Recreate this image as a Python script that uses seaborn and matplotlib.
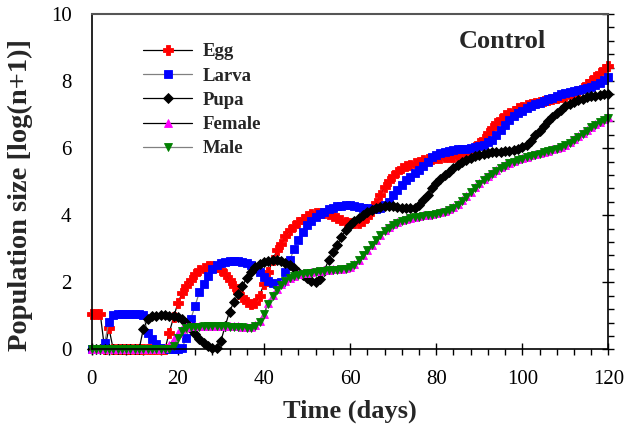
import matplotlib
matplotlib.use("Agg")
import matplotlib.pyplot as plt
import seaborn as sns
import numpy as np
import pandas as pd
from matplotlib.ticker import MultipleLocator

days = list(range(0, 121))

egg = [1.04, 1.04, 1.04, 0.0, 0.63, 0.0, 0.0, 0.0, 0.0, 0.0,
       0.0, 0.0, 0.0, 0.0, 0.0, 0.0, 0.0, 0.0, 0.5, 0.95,
       1.38, 1.68, 1.88, 2.07, 2.25, 2.37, 2.44, 2.48, 2.48, 2.45,
       2.38, 2.25, 2.08, 1.9, 1.72, 1.55, 1.42, 1.36, 1.38, 1.6,
       1.95, 2.3, 2.65, 2.95, 3.15, 3.38, 3.55, 3.68, 3.8, 3.9,
       3.98, 4.03, 4.06, 4.07, 4.06, 4.03, 3.98, 3.92, 3.86, 3.8,
       3.77, 3.76, 3.77, 3.82, 3.95, 4.12, 4.35, 4.6, 4.83, 5.02,
       5.18, 5.3, 5.4, 5.46, 5.51, 5.55, 5.6, 5.63, 5.66, 5.68,
       5.7, 5.71, 5.72, 5.73, 5.74, 5.76, 5.8, 5.85, 5.92, 6.02,
       6.15, 6.28, 6.45, 6.6, 6.75, 6.88, 6.98, 7.06, 7.12, 7.18,
       7.23, 7.27, 7.31, 7.34, 7.37, 7.4, 7.43, 7.46, 7.49, 7.53,
       7.56, 7.6, 7.64, 7.7, 7.79, 7.9, 8.0, 8.12, 8.24, 8.35,
       8.45]

larva = [0.0, 0.0, 0.0, 0.2, 0.83, 1.03, 1.04, 1.04, 1.04, 1.04,
         1.04, 1.04, 1.02, 0.5, 0.3, 0.15, 0.05, 0.0, 0.0, 0.0,
         0.0, 0.05, 0.35, 0.9, 1.3, 1.7, 1.95, 2.2, 2.4, 2.5,
         2.57, 2.6, 2.62, 2.63, 2.63, 2.6, 2.57, 2.5, 2.42, 2.3,
         2.15, 2.03, 1.97, 1.95, 2.0, 2.3, 2.65, 3.0, 3.27, 3.5,
         3.7, 3.82, 3.95, 4.03, 4.1, 4.17, 4.22, 4.26, 4.28, 4.3,
         4.3, 4.28, 4.25, 4.22, 4.2, 4.18, 4.18, 4.2, 4.3, 4.4,
         4.6, 4.75, 4.9, 5.05, 5.15, 5.25, 5.35, 5.46, 5.6, 5.72,
         5.8, 5.85, 5.88, 5.92, 5.95, 5.96, 5.97, 5.98, 6.0, 6.02,
         6.05, 6.1, 6.18, 6.25, 6.4, 6.55, 6.7, 6.85, 6.95, 7.05,
         7.12, 7.18, 7.24, 7.3, 7.35, 7.4, 7.45, 7.5, 7.55, 7.6,
         7.63, 7.66, 7.69, 7.72, 7.76, 7.79, 7.83, 7.88, 7.95, 8.03,
         8.12]

pupa = [0.0, 0.0, 0.0, 0.0, 0.0, 0.0, 0.0, 0.0, 0.0, 0.0,
        0.0, 0.0, 0.62, 0.9, 0.98, 1.0, 1.02, 1.02, 1.0, 0.99,
        0.97, 0.9, 0.78, 0.6, 0.45, 0.3, 0.18, 0.1, 0.05, 0.03,
        0.25, 0.7, 1.12, 1.41, 1.66, 1.9, 2.12, 2.32, 2.45, 2.55,
        2.6, 2.63, 2.65, 2.65, 2.62, 2.57, 2.5, 2.42, 2.32, 2.22,
        2.12, 2.05, 2.02, 2.1, 2.35, 2.65, 2.9, 3.1, 3.35, 3.55,
        3.72, 3.82, 3.92, 4.0, 4.08, 4.15, 4.2, 4.24, 4.26, 4.27,
        4.27, 4.25, 4.22, 4.2, 4.2, 4.22, 4.3, 4.45, 4.6, 4.8,
        4.95, 5.08, 5.2, 5.3, 5.4, 5.5, 5.58, 5.65, 5.71, 5.76,
        5.8, 5.83, 5.85, 5.87, 5.88, 5.89, 5.9, 5.91, 5.93, 5.96,
        6.02, 6.1, 6.22, 6.38, 6.52, 6.65, 6.8, 6.92, 7.05, 7.15,
        7.24, 7.31, 7.37, 7.42, 7.47, 7.51, 7.54, 7.56, 7.58, 7.6,
        7.62]

female = [0.0, 0.0, 0.0, 0.0, 0.0, 0.0, 0.0, 0.0, 0.0, 0.0,
          0.0, 0.0, 0.0, 0.0, 0.0, 0.0, 0.0, 0.05, 0.12, 0.3,
          0.48, 0.6, 0.66, 0.69, 0.7, 0.7, 0.71, 0.71, 0.71, 0.71,
          0.71, 0.71, 0.7, 0.7, 0.69, 0.68, 0.67, 0.67, 0.72, 0.85,
          1.06, 1.37, 1.62, 1.8, 1.94, 2.05, 2.14, 2.2, 2.24, 2.27,
          2.29, 2.31, 2.33, 2.35, 2.37, 2.38, 2.39, 2.4, 2.41, 2.43,
          2.47, 2.54, 2.67, 2.82, 2.97, 3.12, 3.27, 3.42, 3.55, 3.65,
          3.73, 3.8, 3.85, 3.89, 3.93, 3.96, 3.98, 4.0, 4.02, 4.04,
          4.06, 4.08, 4.12, 4.17, 4.23, 4.32, 4.44, 4.57, 4.7, 4.84,
          4.96, 5.07, 5.17, 5.26, 5.35, 5.43, 5.5, 5.57, 5.62, 5.66,
          5.7, 5.74, 5.78, 5.82, 5.85, 5.89, 5.92, 5.96, 6.0, 6.04,
          6.1, 6.18, 6.27, 6.35, 6.44, 6.54, 6.64, 6.72, 6.79, 6.86,
          6.92]

male = [0.0, 0.0, 0.0, 0.0, 0.0, 0.0, 0.0, 0.0, 0.0, 0.0,
        0.0, 0.0, 0.0, 0.0, 0.0, 0.0, 0.0, 0.0, 0.02, 0.1,
        0.35, 0.55, 0.63, 0.67, 0.68, 0.68, 0.69, 0.69, 0.69, 0.69,
        0.69, 0.69, 0.68, 0.68, 0.67, 0.66, 0.65, 0.65, 0.7, 0.83,
        1.04, 1.35, 1.6, 1.78, 1.92, 2.03, 2.12, 2.18, 2.22, 2.25,
        2.27, 2.29, 2.31, 2.33, 2.35, 2.36, 2.37, 2.38, 2.39, 2.41,
        2.45, 2.52, 2.65, 2.8, 2.95, 3.1, 3.25, 3.4, 3.53, 3.63,
        3.71, 3.78, 3.83, 3.87, 3.91, 3.94, 3.96, 3.98, 4.0, 4.02,
        4.04, 4.06, 4.1, 4.15, 4.21, 4.3, 4.42, 4.55, 4.68, 4.82,
        4.94, 5.05, 5.15, 5.24, 5.33, 5.41, 5.48, 5.55, 5.6, 5.64,
        5.68, 5.72, 5.76, 5.8, 5.83, 5.87, 5.9, 5.94, 5.98, 6.02,
        6.08, 6.16, 6.25, 6.33, 6.42, 6.52, 6.62, 6.7, 6.77, 6.84,
        6.9]

series_names = ["Egg", "Larva", "Pupa", "Female", "Male"]

sns.set_style("white")
plt.rcParams["font.family"] = ["Liberation Serif", "DejaVu Serif"]

fig = plt.figure(figsize=(6.24, 4.34), dpi=100)
ax = fig.add_axes([0.147, 0.195, 0.828, 0.773])

styles = {
    "Egg":    dict(marker="P", color="black", mfc="#ff0000", mec="#ff0000", ms=7.5),
    "Larva":  dict(marker="s", color="#808080", mfc="#0000ff", mec="#0000ff", ms=5.8),
    "Pupa":   dict(marker="D", color="black", mfc="black", mec="black", ms=5.6),
    "Female": dict(marker="^", color="black", mfc="#ff00ff", mec="#ff00ff", ms=6),
    "Male":   dict(marker="v", color="#808080", mfc="#008000", mec="#008000", ms=6),
}
data_map = {"Egg": egg, "Larva": larva, "Pupa": pupa, "Female": female, "Male": male}

for name in series_names:
    st = styles[name]
    df = pd.DataFrame({"day": days, "val": data_map[name]})
    sns.lineplot(data=df, x="day", y="val", ax=ax, label=name,
                 color=st["color"], linewidth=0.9,
                 marker=st["marker"], markersize=st["ms"],
                 markerfacecolor=st["mfc"], markeredgecolor=st["mec"],
                 markeredgewidth=0.6, clip_on=False)

ax.set_xlim(0, 120)
ax.set_ylim(0, 10)
ax.xaxis.set_major_locator(MultipleLocator(20))
ax.xaxis.set_minor_locator(MultipleLocator(4))
ax.yaxis.set_major_locator(MultipleLocator(2))
ax.yaxis.set_minor_locator(MultipleLocator(0.4))

ax.tick_params(axis="both", which="major", direction="inout", length=9,
               width=1, colors="black", labelsize=15)
ax.tick_params(axis="x", which="major", pad=10)
ax.tick_params(axis="y", which="major", pad=10)
ax.tick_params(axis="both", which="minor", direction="out", length=4,
               width=1, colors="black")
ax.tick_params(axis="y", which="both", right=True, labelright=False)
ax.tick_params(axis="x", which="both", bottom=True, top=False)

for s in ["left", "bottom", "right"]:
    ax.spines[s].set_color("black")
    ax.spines[s].set_linewidth(1.2)
ax.spines["top"].set_color("#555555")
ax.spines["top"].set_linewidth(1.5)

ax.set_xlabel("Time (days)", fontsize=19, fontweight="bold", labelpad=8)
ax.set_ylabel("Population size [log(n+1)]", fontsize=20.5, fontweight="bold")
ax.yaxis.set_label_coords(-0.113, 0.46)

ax.text(0.795, 0.917, "Control", transform=ax.transAxes, fontsize=19,
        fontweight="bold", ha="center", va="center")

leg = ax.legend(loc="upper left", bbox_to_anchor=(0.085, 0.935), frameon=False,
                prop={"weight": "bold", "size": 13.5}, handlelength=2.6,
                labelspacing=0.38, handletextpad=0.6, borderaxespad=0)

fig.savefig("out.png", dpi=100)
